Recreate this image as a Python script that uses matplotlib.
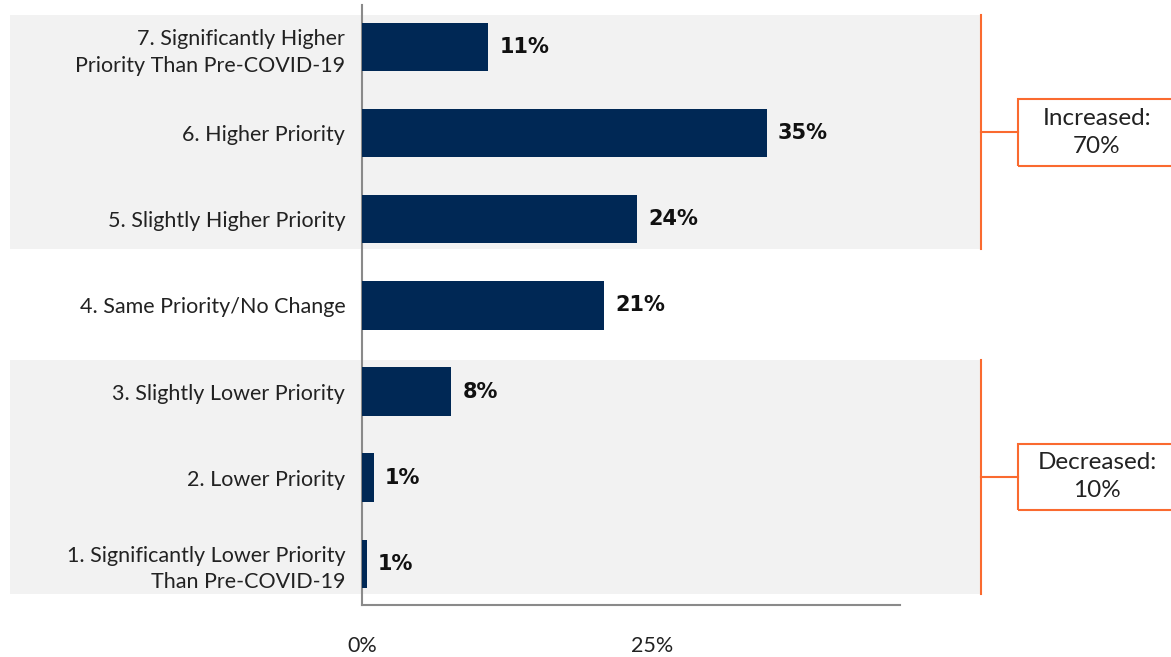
import matplotlib
matplotlib.use("Agg")
import matplotlib.pyplot as plt
from matplotlib.patches import Rectangle

categories = [
    "1. Significantly Lower Priority\nThan Pre-COVID-19",
    "2. Lower Priority",
    "3. Slightly Lower Priority",
    "4. Same Priority/No Change",
    "5. Slightly Higher Priority",
    "6. Higher Priority",
    "7. Significantly Higher\nPriority Than Pre-COVID-19",
]
values = [0.4, 1.0, 7.7, 20.9, 23.7, 34.9, 10.9]
value_labels = ["1%", "1%", "8%", "21%", "24%", "35%", "11%"]
xticks = [0, 25]
xtick_labels = ["0%", "25%"]
group_labels = ["Decreased:\n10%", "Increased:\n70%"]
group_ranges = [(0, 2), (4, 6)]

bar_color = "#002855"
band_color = "#f2f2f2"
orange = "#fa6a2f"
font = ["Lato", "DejaVu Sans"]
plt.rcParams["font.family"] = font

W, H = 1171, 657
fig = plt.figure(figsize=(W / 100, H / 100), dpi=100)
ax = fig.add_axes([362 / W, 1 - 605 / H, 538 / W, 600 / H])
ax.set_xlim(0, 46.4)
ax.set_ylim(-0.48, 6.49)

ypos = list(range(len(categories)))
ax.barh(ypos, values, height=0.56, color=bar_color, zorder=3)

for y, v, lab in zip(ypos, values, value_labels):
    ax.annotate(lab, (v, y), xytext=(8, 0), textcoords="offset points",
                va="center", ha="left", fontsize=15, fontweight="bold",
                family=["DejaVu Sans"], color="#111111", zorder=4)

ax.set_yticks(ypos)
ax.set_yticklabels(categories, fontsize=15.5, color="#222222", linespacing=1.4)
ax.tick_params(axis="y", length=0, pad=12)
ax.set_xticks(xticks)
ax.set_xticklabels(xtick_labels, fontsize=15.5, color="#222222")
ax.tick_params(axis="x", length=0, pad=22)

for s in ["top", "right"]:
    ax.spines[s].set_visible(False)
ax.spines["left"].set_color("#8a8a8a")
ax.spines["left"].set_linewidth(1.5)
ax.spines["bottom"].set_color("#8a8a8a")
ax.spines["bottom"].set_linewidth(1.5)
ax.patch.set_alpha(0)

xmin_ax = (10 - 362) / 538
xmax_ax = (980 - 362) / 538
xbr = (981 - 362) / 538
xbox = (1018 - 362) / 538
xbox_end = (1185 - 362) / 538
for (lo, hi), glabel in zip(group_ranges, group_labels):
    ylo, yhi = lo - 0.35, hi + 0.37
    ax.axhspan(ylo, yhi, xmin=xmin_ax, xmax=xmax_ax, color=band_color,
               zorder=0, clip_on=False, lw=0)
    tr = ax.get_yaxis_transform()
    ax.plot([xbr, xbr], [ylo, yhi], transform=tr, color=orange, lw=1.5,
            clip_on=False, zorder=2)
    ymid = (ylo + yhi) / 2
    ax.plot([xbr, xbox], [ymid, ymid], transform=tr, color=orange, lw=1.5,
            clip_on=False, zorder=2)
    ax.add_patch(Rectangle((xbox, ymid - 0.385), xbox_end - xbox, 0.77,
                           transform=tr, fill=False, edgecolor=orange, lw=1.5,
                           clip_on=False, zorder=2))
    ax.text((1097 - 362) / 538, ymid, glabel, transform=tr, ha="center",
            va="center", fontsize=17.5, color="#222222", linespacing=1.4)

fig.savefig("out.png", dpi=100)
